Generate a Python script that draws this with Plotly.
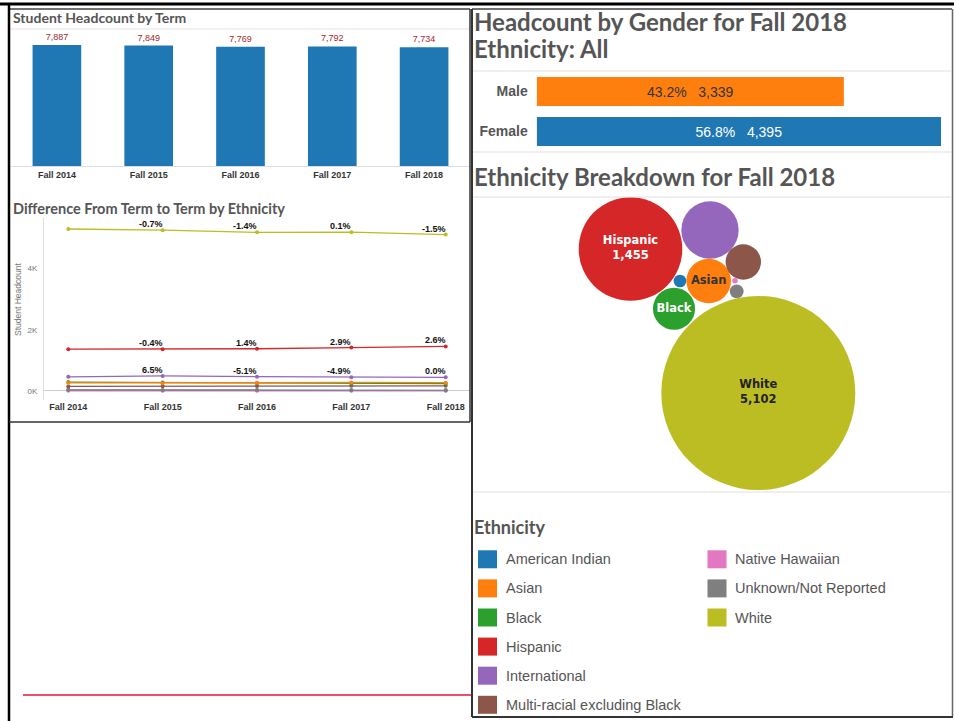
import plotly.graph_objects as go

W, H = 954, 721
def px(x): return x / W
def py(y): return 1 - y / H

# ---------------- DATA ----------------
terms = ["Fall 2014", "Fall 2015", "Fall 2016", "Fall 2017", "Fall 2018"]
headcount = [7887, 7849, 7769, 7792, 7734]

ethnicities = ["American Indian", "Asian", "Black", "Hispanic", "International",
               "Multi-racial excluding Black", "Native Hawaiian",
               "Unknown/Not Reported", "White"]
american_indian = [30, 28, 26, 24, 22]
asian = [265, 255, 268, 280, 270]
black = [290, 275, 255, 245, 240]
hispanic = [1364, 1359, 1378, 1418, 1455]
international = [463, 493, 468, 445, 445]
multi_racial = [150, 158, 165, 168, 170]
native_hawaiian = [6, 5, 5, 4, 4]
unknown = [34, 28, 29, 28, 26]
white = [5285, 5248, 5175, 5180, 5102]

white_pct = ["", "-0.7%", "-1.4%", "0.1%", "-1.5%"]
hispanic_pct = ["", "-0.4%", "1.4%", "2.9%", "2.6%"]
international_pct = ["", "6.5%", "-5.1%", "-4.9%", "0.0%"]

genders = ["Male", "Female"]
gender_counts = [3339, 4395]

# ---------------- STYLE / LAYOUT ----------------
colors = {
    "American Indian": "#1f77b4", "Asian": "#ff7f0e", "Black": "#2ca02c",
    "Hispanic": "#d62728", "International": "#9467bd",
    "Multi-racial excluding Black": "#8c564b", "Native Hawaiian": "#e377c2",
    "Unknown/Not Reported": "#7f7f7f", "White": "#bcbd22",
}
series = {
    "American Indian": american_indian, "Asian": asian, "Black": black,
    "Hispanic": hispanic, "International": international,
    "Multi-racial excluding Black": multi_racial, "Native Hawaiian": native_hawaiian,
    "Unknown/Not Reported": unknown, "White": white,
}
pct_labels = {"White": white_pct, "Hispanic": hispanic_pct, "International": international_pct}

# packed-bubble layout (pixel centres inside the bubble panel)
bubble_centers = {
    "American Indian": (680, 281), "Asian": (708.7, 281), "Black": (674, 308.7),
    "Hispanic": (630.5, 249), "International": (710, 230),
    "Multi-racial excluding Black": (743.3, 262), "Native Hawaiian": (735, 280.7),
    "Unknown/Not Reported": (736.7, 291.3), "White": (758.3, 393),
}
bubble_label = {"Asian": "name", "Black": "name", "Hispanic": "both", "White": "both"}
bubble_text_color = {"Asian": "#333333", "Black": "#ffffff", "Hispanic": "#ffffff", "White": "#222222"}

TITLE_FONT = "Lato"
AX_FONT = "Liberation Sans"
GRAY = "#555555"

fig = go.Figure()
annotations = []

# ---- Bar chart: Student Headcount by Term ----
fig.add_trace(go.Bar(
    x=terms, y=headcount, marker=dict(color="#1f77b4", line=dict(width=0)),
    width=0.53,
    text=[f"{v:,}" for v in headcount], textposition="outside",
    textfont=dict(size=9, color="#a3282b", family=AX_FONT),
    cliponaxis=False, xaxis="x", yaxis="y", showlegend=False, hoverinfo="x+y",
))

# ---- Line chart: difference by ethnicity ----
draw_order = ["American Indian", "Native Hawaiian", "Unknown/Not Reported", "Multi-racial excluding Black",
              "Black", "Asian", "International", "Hispanic", "White"]
for name in draw_order:
    vals = series[name]
    fig.add_trace(go.Scatter(
        x=terms, y=vals, mode="lines+markers",
        line=dict(color=colors[name], width=1.3),
        marker=dict(color=colors[name], size=4),
        cliponaxis=False, xaxis="x2", yaxis="y2", showlegend=False, name=name,
    ))
    if name in pct_labels:
        for t, v, lab in zip(terms, vals, pct_labels[name]):
            if lab:
                annotations.append(dict(
                    x=t, y=v, xref="x2", yref="y2", text=lab, showarrow=False,
                    xanchor="right", yanchor="bottom", xshift=2, yshift=-1,
                    font=dict(size=9, color="#111111", family=AX_FONT, weight="bold")))

# ---- Gender bars ----
total = sum(gender_counts)
fig.add_trace(go.Bar(
    y=genders, x=gender_counts, orientation="h", width=0.725,
    marker=dict(color=["#ff7f0e", "#1f77b4"], line=dict(width=0)),
    text=[f"{v / total * 100:.1f}%\u00a0\u00a0\u00a0{v:,}" for v in gender_counts],
    textposition="inside", insidetextanchor="middle",
    textfont=dict(size=14, color=["#333333", "#ffffff"], family=AX_FONT),
    xaxis="x3", yaxis="y3", showlegend=False,
))

# ---- Bubbles ----
fall2018 = [series[n][-1] for n in ethnicities]
max_v = max(fall2018)
D_MAX = 194
btext = []
for n, v in zip(ethnicities, fall2018):
    mode = bubble_label.get(n)
    btext.append(f"{n}<br>{v:,}" if mode == "both" else (n if mode == "name" else ""))
fig.add_trace(go.Scatter(
    x=[bubble_centers[n][0] for n in ethnicities],
    y=[bubble_centers[n][1] for n in ethnicities],
    mode="markers+text",
    marker=dict(size=fall2018, sizemode="area", sizeref=2 * max_v / D_MAX ** 2,
                color=[colors[n] for n in ethnicities], line=dict(width=0), opacity=1),
    text=btext, textposition="middle center",
    textfont=dict(size=11.5, family="DejaVu Sans", weight="bold",
                  color=[bubble_text_color.get(n, "#333") for n in ethnicities]),
    cliponaxis=False, xaxis="x4", yaxis="y4", showlegend=False,
))

# ---------------- AXES ----------------
bar_top_val = 7887 * 137 / 121
layout = dict(
    width=W, height=H, margin=dict(l=0, r=0, t=0, b=0),
    paper_bgcolor="white", plot_bgcolor="rgba(0,0,0,0)",
    xaxis=dict(domain=[px(11), px(470)], showgrid=False, zeroline=False,
               showline=True, linecolor="#dddddd", linewidth=1, ticks="",
               tickfont=dict(size=9, color="#333", family=AX_FONT, weight="bold"),
               fixedrange=True),
    yaxis=dict(domain=[py(166), py(29)], range=[0, bar_top_val], visible=False),
    xaxis2=dict(domain=[px(44), px(470)], anchor="y2", showgrid=False, zeroline=False,
                showline=False, ticks="",
                tickfont=dict(size=9, color="#333", family=AX_FONT, weight="bold")),
    yaxis2=dict(domain=[py(400), py(218)], anchor="x2", range=[-294, 5644],
                showgrid=False, zeroline=True, zerolinecolor="#cccccc", zerolinewidth=1,
                showline=True, linecolor="#dddddd", linewidth=1,
                tickvals=[0, 2000, 4000], ticktext=["0K", "2K", "4K"], ticks="",
                tickfont=dict(size=8, color="#777", family=AX_FONT), ticklabelstandoff=4),
    xaxis3=dict(domain=[px(536.7), px(951)], anchor="y3", range=[0, (951 - 536.7) * 4395 / 404.3],
                visible=False),
    yaxis3=dict(domain=[py(151.5), py(71.5)], anchor="x3", categoryorder="array",
                categoryarray=["Female", "Male"], showgrid=False, zeroline=False,
                showline=False, ticks="", ticklabelstandoff=8,
                tickfont=dict(size=14, color=GRAY, family=AX_FONT, weight="bold")),
    xaxis4=dict(domain=[px(472), px(952)], anchor="y4", range=[472, 952], visible=False),
    yaxis4=dict(domain=[py(491), py(198)], anchor="x4", range=[491, 198], visible=False),
)
fig.update_layout(**layout)

# ---------------- FRAMES / RULES ----------------
shapes = []
def line(x0, y0, x1, y1, color, width):
    shapes.append(dict(type="line", xref="paper", yref="paper",
                       x0=px(x0), y0=py(y0), x1=px(x1), y1=py(y1),
                       line=dict(color=color, width=width)))

# light separators
line(10, 29, 470, 29, "#e3e3e3", 1)
for yy in (71, 152, 197, 492):
    line(473, yy, 951, yy, "#e0e0e0", 1)
# panel frames
line(0, 4, 954, 4, "#000000", 3)
line(9, 9, 470, 9, "#444444", 1.5)
line(9, 4, 9, 721, "#000000", 2.5)
line(470, 9, 470, 422, "#333333", 1.5)
line(9, 422, 470, 422, "#333333", 1.5)
line(472, 9, 952, 9, "#444444", 1.5)
line(472, 9, 472, 717, "#333333", 2)
line(952.5, 9, 952.5, 717, "#666666", 1.5)
line(472, 717, 953, 717, "#333333", 2)
line(23, 695, 471, 695, "#e3173b", 1.5)

# legend swatches & labels
col1 = ethnicities[:6]
col2 = ethnicities[6:]
row_y0, row_dy = 559.3, 29.1
for col, (sx, tx) in ((col1, (478, 504)), (col2, (707.5, 733))):
    for i, n in enumerate(col):
        yc = row_y0 + i * row_dy
        shapes.append(dict(type="rect", xref="paper", yref="paper",
                           x0=px(sx), x1=px(sx + 19), y0=py(yc + 9), y1=py(yc - 9),
                           fillcolor=colors[n], line=dict(width=0)))
        annotations.append(dict(x=px(tx), y=py(yc), xref="paper", yref="paper", text=n,
                                showarrow=False, xanchor="left", yanchor="middle",
                                font=dict(size=14.5, color=GRAY, family=AX_FONT)))

def title(text, x, y, size, weight="bold", color=GRAY, family=TITLE_FONT):
    annotations.append(dict(x=px(x), y=py(y), xref="paper", yref="paper", text=text,
                            showarrow=False, xanchor="left", yanchor="middle",
                            font=dict(size=size, color=color, family=family, weight=weight)))

title("Student Headcount by Term", 11, 17.5, 14)
title("Difference From Term to Term by Ethnicity", 11, 208, 14.5)
title("Headcount by Gender for Fall 2018", 472, 22, 24)
title("Ethnicity: All", 472, 49, 24)
title("Ethnicity Breakdown for Fall 2018", 472, 176, 24)
title("Ethnicity", 472, 527, 18)
annotations.append(dict(x=px(18), y=py(300), xref="paper", yref="paper",
                        text="Student Headcount", textangle=-90, showarrow=False,
                        xanchor="center", yanchor="middle",
                        font=dict(size=8.5, color="#777", family=AX_FONT)))

fig.update_layout(shapes=shapes, annotations=annotations)
fig.write_html("out.html", config={"displayModeBar": False},
               post_script="document.body.style.margin='0';document.body.style.padding='0';")
